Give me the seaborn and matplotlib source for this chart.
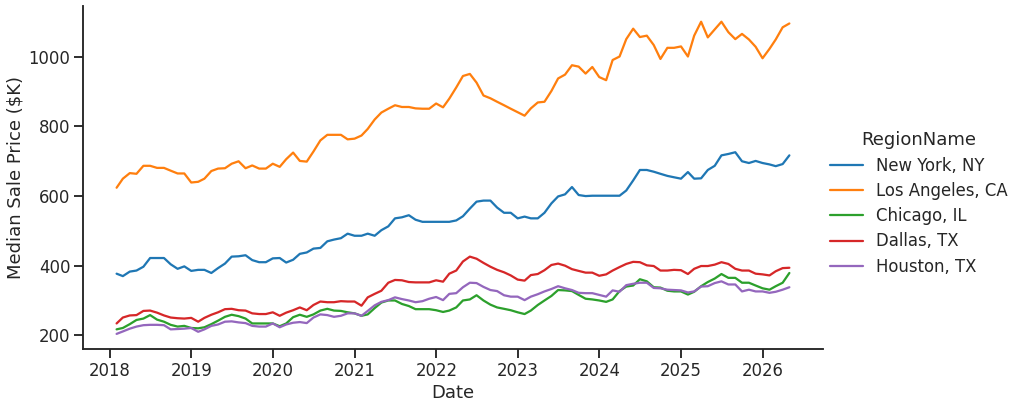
# Median sale price by metro, monthly, 2018 - 2026

import pandas as pd
import seaborn as sns
import matplotlib
matplotlib.use("Agg")
import matplotlib.pyplot as plt

# month-end dates, Jan 2018 .. Apr 2026
dates = pd.date_range("2018-01-01", periods=100, freq="MS") + pd.offsets.MonthEnd(0)

regions = ["New York, NY", "Los Angeles, CA", "Chicago, IL", "Dallas, TX", "Houston, TX"]

# values in $K
new_york = [377, 370, 383, 386, 397, 422, 422, 422, 404, 391,
            398, 385, 388, 388, 379, 393, 406, 426, 427, 430,
            416, 410, 410, 421, 422, 409, 417, 434, 438, 449,
            451, 470, 475, 479,
            492, 486, 486, 492, 486, 502, 513, 536, 539, 545,
            532, 526, 526, 526, 526, 526, 530, 542, 564, 584,
            587, 587, 567, 552, 552, 536, 541, 536, 536, 552,
            579, 599, 605, 626,
            603, 600, 601, 601, 601, 601, 601, 616, 645, 675,
            675, 670, 664, 658, 654, 650, 669, 650, 651, 675,
            687, 717, 721, 726, 700, 695, 701, 695, 691, 686,
            692, 717]

los_angeles = [624, 650, 666, 664, 687, 687, 681, 681, 673, 665,
               665, 639, 641, 650, 672, 679, 680, 693, 700, 680,
               688, 679, 679, 693, 684, 706, 725, 701, 699, 728,
               760, 776, 776, 776,
               763, 765, 774, 793, 820, 840, 851, 861, 856, 856,
               852, 851, 851, 866, 855, 880, 912, 945, 951, 926,
               889, 881, 871, 861, 851, 841, 831, 852, 869, 871,
               902, 938, 949, 976,
               972, 952, 971, 942, 933, 991, 1001, 1051, 1081, 1057,
               1061, 1034, 994, 1026, 1026, 1030, 1001, 1061, 1101, 1056,
               1079, 1101, 1071, 1051, 1066, 1050, 1029, 996, 1023, 1050,
               1085, 1096]

chicago = [217, 221, 232, 244, 248, 258, 245, 239, 230, 225,
           227, 221, 220, 223, 232, 242, 253, 259, 255, 248,
           234, 234, 234, 234, 226, 234, 252, 259, 253, 260,
           271, 276, 271, 270,
           266, 263, 256, 260, 278, 294, 300, 300, 290, 284,
           275, 275, 275, 272, 267, 271, 280, 300, 303, 315,
           300, 288, 280, 276, 272, 266, 261, 271, 287, 300,
           313, 330, 329, 327,
           316, 305, 303, 300, 296, 303, 327, 340, 343, 361,
           355, 338, 337, 328, 326, 326, 317, 325, 341, 353,
           363, 376, 365, 365, 351, 351, 343, 335, 331, 341,
           351, 379]

dallas = [234, 251, 257, 258, 270, 271, 265, 257, 251, 249,
          248, 250, 239, 250, 259, 266, 275, 276, 272, 271,
          263, 261, 261, 266, 256, 265, 272, 280, 272, 287,
          297, 295, 295, 298,
          297, 297, 285, 309, 319, 328, 351, 359, 358, 353,
          352, 352, 352, 358, 354, 377, 386, 412, 426, 420,
          408, 397, 388, 381, 372, 360, 357, 373, 376, 387,
          402, 406, 400, 390,
          385, 380, 380, 371, 375, 386, 396, 405, 411, 410,
          401, 399, 386, 386, 388, 387, 376, 391, 399, 399,
          403, 410, 405, 391, 386, 386, 377, 375, 372, 384,
          393, 394]

houston = [204, 211, 219, 225, 229, 230, 230, 229, 217, 218,
           219, 221, 210, 217, 227, 231, 239, 240, 237, 235,
           227, 225, 225, 234, 223, 231, 236, 238, 235, 251,
           260, 258, 253, 256,
           263, 263, 256, 270, 286, 296, 301, 309, 304, 300,
           295, 298, 305, 310, 301, 319, 321, 338, 351, 350,
           339, 330, 327, 315, 311, 311, 301, 311, 318, 326,
           333, 341, 335, 330,
           322, 321, 321, 316, 311, 329, 325, 344, 348, 351,
           351, 336, 335, 331, 330, 329, 323, 326, 340, 341,
           350, 355, 346, 346, 326, 331, 326, 326, 322, 325,
           331, 338]

# long format for seaborn
wide = pd.DataFrame({"Date": dates,
                     regions[0]: new_york,
                     regions[1]: los_angeles,
                     regions[2]: chicago,
                     regions[3]: dallas,
                     regions[4]: houston})
df = wide.melt(id_vars="Date", var_name="RegionName", value_name="Price")

sns.set_theme(style="ticks", context="talk")

fig, ax = plt.subplots(figsize=(1023 / 72, 408 / 72), dpi=72)
fig.subplots_adjust(left=0.0811, right=0.8045, top=0.985, bottom=0.1434)

sns.lineplot(data=df, x="Date", y="Price", hue="RegionName",
             hue_order=regions, palette="tab10", ax=ax)
sns.despine()
ax.set_ylabel("Median Sale Price ($K)")

# legend outside on the right, no frame
sns.move_legend(ax, "center left", bbox_to_anchor=(0.989, 0.425),
                frameon=False, labelspacing=0.44)

fig.savefig("out.png", dpi=72)
